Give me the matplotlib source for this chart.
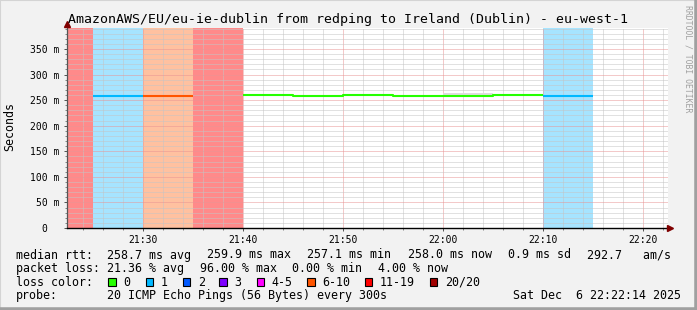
"""
Smokeping style latency graph: AmazonAWS eu-west-1 seen from redping, last hour.
"""
import numpy as np
import matplotlib
matplotlib.use('Agg')
import matplotlib.pyplot as plt
from matplotlib.ticker import MultipleLocator, FixedLocator
from matplotlib.patches import Rectangle
from matplotlib.lines import Line2D

# five minute rows, minutes after 21:00
row_start = [20, 25, 30, 35, 40, 45, 50, 55, 60, 65, 70]
median_ms = [np.nan, 258.1, 258.2, np.nan, 259.3, 257.4, 260.3, 259.0, 259.0, 260.3, 259.0]
loss_bin = ['11-19', '1', '6-10', '11-19', '0', '0', '0', '0', '0', '0', '1']
smoke_lo = [np.nan] * 8 + [258.5, np.nan, np.nan]
smoke_hi = [np.nan] * 8 + [264.0, np.nan, np.nan]

loss_labels = ['0', '1', '2', '3', '4-5', '6-10', '11-19', '20/20']
loss_colors = ['#26ff00', '#00b8ff', '#0059ff', '#7e00ff', '#ff00ff', '#ff5500', '#ff0000', '#a10000']
band_colors = {'1': '#a6e4ff', '6-10': '#ffc1a0', '11-19': '#ff8a8a'}

x_ticks = [30, 40, 50, 60, 70, 80]
x_labels = ['21:30', '21:40', '21:50', '22:00', '22:10', '22:20']
y_ticks = [0, 50, 100, 150, 200, 250, 300, 350]
y_labels = ['0  ', '50 m', '100 m', '150 m', '200 m', '250 m', '300 m', '350 m']

title = 'AmazonAWS/EU/eu-ie-dublin from redping to Ireland (Dublin) - eu-west-1'
rtt_items = ['median rtt:  258.7 ms avg', '259.9 ms max', '257.1 ms min',
             '258.0 ms now', '0.9 ms sd', '292.7   am/s']
loss_items = ['packet loss: 21.36 % avg', '96.00 % max', '0.00 % min', '4.00 % now']
probe_text = '20 ICMP Echo Pings (56 Bytes) every 300s'
stamp_text = 'Sat Dec  6 22:22:14 2025'

W, H = 697, 310
MONO = 'DejaVu Sans Mono'


def px(x, y):
    return x / W, 1 - y / H


fig = plt.figure(figsize=(W / 100, H / 100), dpi=100, facecolor='#f2f2f2')
ax = fig.add_axes([67 / W, (H - 228) / H, 601 / W, 200 / H])
ax.set_facecolor('white')
ax.set_xlim(22.37, 82.47)
ax.set_ylim(0, 391.1)

# loss background bands
for s, b in zip(row_start, loss_bin):
    if b in band_colors:
        ax.axvspan(s, s + 5, color=band_colors[b], lw=0, zorder=1)

# smoke
for s, lo, hi in zip(row_start, smoke_lo, smoke_hi):
    if not np.isnan(lo):
        ax.fill_between([s, s + 5], lo, hi, color='#dddddd', lw=0, zorder=2.6)

# median line, coloured by loss
xs = np.array(row_start + [row_start[-1] + 5], dtype=float)
for lab, col in zip(loss_labels, loss_colors):
    ys = np.array([m if b == lab else np.nan for m, b in zip(median_ms, loss_bin)])
    if np.all(np.isnan(ys)):
        continue
    ys = np.append(ys, ys[-1])
    ax.step(xs, ys, where='post', color=col, lw=1.5, zorder=3, solid_capstyle='butt')

# grid
ax.xaxis.set_major_locator(FixedLocator(x_ticks))
ax.xaxis.set_minor_locator(MultipleLocator(2))
ax.yaxis.set_major_locator(FixedLocator(y_ticks))
ax.yaxis.set_minor_locator(MultipleLocator(10))
ax.set_xticklabels(x_labels)
ax.set_yticklabels(y_labels)
ax.set_axisbelow(False)
ax.grid(which='minor', color='#c4c4c4', ls=(0, (1, 1)), lw=0.72, zorder=2.5)
ax.grid(which='major', color='#e99494', ls=(0, (1, 1)), lw=0.72, zorder=2.5)

for sp in ['top', 'right', 'left', 'bottom']:
    ax.spines[sp].set_visible(False)
ax.tick_params(which='major', length=2.5, width=0.72, color='#555555',
               labelsize=7, labelfontfamily=MONO)
ax.tick_params(which='minor', length=1.5, width=0.72, color='#888888')
ax.tick_params(axis='x', which='major', pad=2.2)
ax.tick_params(axis='y', which='major', pad=3.0)

# axis lines with arrows
ax.plot([0, 0], [0, 1.02], transform=ax.transAxes, color='#555555', lw=0.9, clip_on=False, zorder=4)
ax.plot([0, 1.005], [0, 0], transform=ax.transAxes, color='black', lw=1.0, clip_on=False, zorder=4)
ax.plot([0], [1.018], transform=ax.transAxes, marker='^', color='#800000', ms=4.5, clip_on=False, zorder=5)
ax.plot([1.004], [0], transform=ax.transAxes, marker='>', color='#800000', ms=4.5, clip_on=False, zorder=5)

# texts
fig.text(*px(68, 23.3), title, fontsize=9.5, family=MONO, va='baseline')
fig.text(*px(10, 126.5), 'Seconds', fontsize=8.4, family=MONO, rotation=90, ha='center', va='center')
fig.text(*px(688, 59), 'RRDTOOL / TOBI OETIKER', fontsize=5.9, family=MONO, rotation=-90,
         ha='center', va='center', color='#a0a0a0')

rtt_x = [16, 207.3, 307.3, 407.7, 507.7, 586.7]
for x, t in zip(rtt_x, rtt_items):
    fig.text(*px(x, 258.5), t, fontsize=8.4, family=MONO, va='baseline')
loss_x = [16, 200.0, 292.5, 378.0]
for x, t in zip(loss_x, loss_items):
    fig.text(*px(x, 272), t, fontsize=8.4, family=MONO, va='baseline')

fig.text(*px(16, 285.7), 'loss color:', fontsize=8.4, family=MONO, va='baseline')
swatch_x = [108.3, 145.7, 182.7, 219.3, 256.7, 307.3, 365.0, 430.0]
for x, lab, col in zip(swatch_x, loss_labels, loss_colors):
    fig.patches.append(Rectangle(px(x, 285.7), 7.4 / W, 7.4 / H, facecolor=col,
                                 edgecolor='black', lw=0.8, transform=fig.transFigure))
    fig.text(*px(x + 15, 285.7), lab, fontsize=8.4, family=MONO, va='baseline')

fig.text(*px(16, 299.3), 'probe:', fontsize=8.4, family=MONO, va='baseline')
fig.text(*px(107.3, 299.3), probe_text, fontsize=8.4, family=MONO, va='baseline')
fig.text(*px(513.3, 299.3), stamp_text, fontsize=8.4, family=MONO, va='baseline')

# 3d frame
fig.add_artist(Line2D([0, 0, 1], [0, 1, 1], transform=fig.transFigure, color='#d4d4d4', lw=1.5))
fig.add_artist(Line2D([0, 1, 1], [0, 0, 1], transform=fig.transFigure, color='#a0a0a0', lw=4))

fig.savefig('out.png', dpi=100, facecolor=fig.get_facecolor())
